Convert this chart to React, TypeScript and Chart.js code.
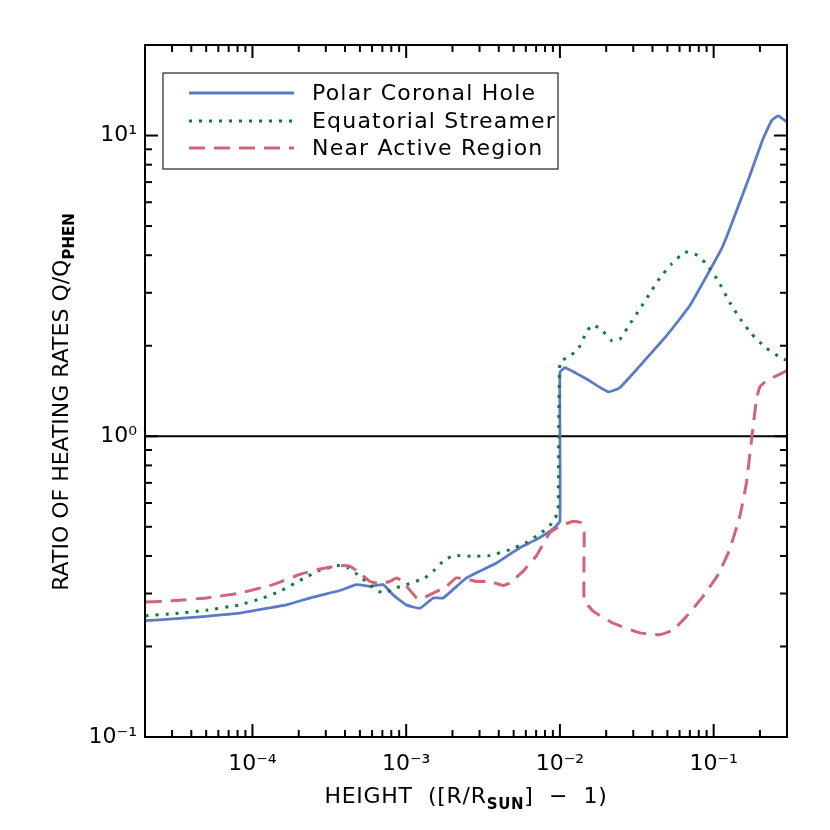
import React, { useEffect, useRef } from 'react';
import { Chart, registerables } from 'chart.js';

Chart.register(...registerables);

// ---------- data ----------
const polarHeight = [2.02e-5, 3.03e-5, 5.02e-5, 8.26e-5, 1.11e-4, 1.66e-4, 2.48e-4, 3.7e-4, 4.75e-4, 5.8e-4, 7.08e-4, 8.22e-4, 1.0e-3, 1.23e-3, 1.5e-3, 1.74e-3, 2.47e-3, 3.87e-3, 5.49e-3, 7.05e-3, 9.03e-3, 0.01, 0.01, 0.01077, 0.0149, 0.0206, 0.0245, 0.0331, 0.0494, 0.07, 0.1125, 0.1273, 0.172, 0.21, 0.238, 0.263, 0.298];
const polarRatio = [0.2436, 0.247, 0.252, 0.258, 0.265, 0.275, 0.292, 0.307, 0.321, 0.317, 0.321, 0.297, 0.275, 0.268, 0.29, 0.29, 0.338, 0.379, 0.426, 0.454, 0.492, 0.522, 1.63, 1.69, 1.55, 1.405, 1.45, 1.715, 2.16, 2.72, 4.2, 4.9, 7.37, 9.77, 11.2, 11.63, 11.11];

const streamerHeight = [2.02e-5, 3.04e-5, 5.02e-5, 8.26e-5, 1.17e-4, 1.51e-4, 2.13e-4, 2.74e-4, 3.61e-4, 4.19e-4, 4.99e-4, 5.8e-4, 6.41e-4, 7.26e-4, 8.22e-4, 1.0e-3, 1.32e-3, 1.5e-3, 1.78e-3, 2.07e-3, 2.72e-3, 3.5e-3, 4.72e-3, 6.07e-3, 7.45e-3, 8.6e-3, 9.27e-3, 9.73e-3, 0.01, 0.01162, 0.01314, 0.0149, 0.01606, 0.0182, 0.0217, 0.0245, 0.0285, 0.0331, 0.0385, 0.0447, 0.0532, 0.065, 0.0755, 0.09, 0.107, 0.127, 0.152, 0.1765, 0.2155, 0.27, 0.298];
const streamerRatio = [0.253, 0.257, 0.264, 0.275, 0.29, 0.305, 0.336, 0.358, 0.3715, 0.365, 0.342, 0.321, 0.307, 0.301, 0.311, 0.321, 0.338, 0.356, 0.389, 0.401, 0.399, 0.401, 0.42, 0.444, 0.475, 0.505, 0.532, 0.564, 1.76, 1.85, 1.95, 2.22, 2.34, 2.29, 2.08, 2.1, 2.36, 2.65, 2.99, 3.36, 3.74, 4.1, 4.04, 3.74, 3.29, 2.79, 2.42, 2.19, 1.98, 1.83, 1.79];

const activeHeight = [2.02e-5, 3.04e-5, 5.02e-5, 8.26e-5, 1.36e-4, 2.03e-4, 2.74e-4, 3.7e-4, 4.29e-4, 4.99e-4, 5.8e-4, 6.73e-4, 7.82e-4, 8.65e-4, 9.55e-4, 1.05e-3, 1.17e-3, 1.26e-3, 1.5e-3, 1.83e-3, 2.12e-3, 2.53e-3, 2.87e-3, 3.5e-3, 4.27e-3, 4.72e-3, 5.76e-3, 7.05e-3, 8.6e-3, 0.01, 0.0122, 0.01383, 0.01438, 0.01438, 0.01645, 0.0222, 0.0331, 0.0447, 0.0545, 0.0667, 0.0855, 0.107, 0.127, 0.148, 0.1635, 0.1765, 0.19, 0.2, 0.221, 0.244, 0.298];
const activeRatio = [0.281, 0.284, 0.29, 0.301, 0.321, 0.347, 0.362, 0.3715, 0.37, 0.351, 0.329, 0.324, 0.329, 0.338, 0.329, 0.309, 0.29, 0.288, 0.301, 0.317, 0.338, 0.334, 0.329, 0.329, 0.319, 0.325, 0.356, 0.401, 0.478, 0.502, 0.522, 0.515, 0.478, 0.286, 0.262, 0.239, 0.222, 0.219, 0.227, 0.252, 0.294, 0.347, 0.42, 0.542, 0.701, 0.977, 1.33, 1.46, 1.53, 1.57, 1.65];

const unityHeight = [2e-5, 0.3];
const unityRatio = [1, 1];

const seriesNames = ['Polar Coronal Hole', 'Equatorial Streamer', 'Near Active Region'];

const xTickValues = [1e-4, 1e-3, 1e-2, 1e-1];
const xTickLabels = ['10⁻⁴', '10⁻³', '10⁻²', '10⁻¹'];
const yTickValues = [0.1, 1, 10];
const yTickLabels = ['10⁻¹', '10⁰', '10¹'];

const xMin = 2e-5;
const xMax = 0.3;
const yMin = 0.1;
const yMax = 20;

const FONT = '"DejaVu Sans", sans-serif';

function pairs(xs: number[], ys: number[]) {
  return xs.map((x, i) => ({ x, y: ys[i] }));
}

function labelFor(values: number[], labels: string[], v: number) {
  for (let i = 0; i < values.length; i++) {
    if (Math.abs(Math.log10(v) - Math.log10(values[i])) < 1e-6) return labels[i];
  }
  return '';
}

const framePlugin = {
  id: 'frameAndLegend',
  afterDraw(chart: any) {
    const { ctx, chartArea: a, scales } = chart;
    const xs = scales.x;
    const ys = scales.y;
    ctx.save();
    ctx.strokeStyle = '#000';
    ctx.lineWidth = 2;
    ctx.lineCap = 'butt';
    const seg = (x1: number, y1: number, x2: number, y2: number) => {
      ctx.beginPath();
      ctx.moveTo(x1, y1);
      ctx.lineTo(x2, y2);
      ctx.stroke();
    };
    for (let e = -6; e <= 2; e++) {
      for (let m = 1; m <= 9; m++) {
        const v = m * Math.pow(10, e);
        const len = m === 1 ? 13 : 7;
        if (v > xMin * 1.0001 && v < xMax * 0.9999) {
          const p = xs.getPixelForValue(v);
          seg(p, a.bottom, p, a.bottom - len);
          seg(p, a.top, p, a.top + len);
        }
        if (v > yMin * 1.0001 && v < yMax * 0.9999) {
          const p = ys.getPixelForValue(v);
          seg(a.left, p, a.left + len, p);
          seg(a.right, p, a.right - len, p);
        }
      }
    }
    ctx.strokeRect(a.left, a.top, a.right - a.left, a.bottom - a.top);

    // legend
    const bx = a.left + 18;
    const by = a.top + 28;
    const bw = 395;
    const bh = 96;
    ctx.fillStyle = '#fff';
    ctx.fillRect(bx, by, bw, bh);
    ctx.lineWidth = 1.2;
    ctx.strokeStyle = '#222';
    ctx.strokeRect(bx, by, bw, bh);
    const rows = [by + 20, by + 48, by + 75];
    ctx.font = `22px ${FONT}`;
    (ctx as any).letterSpacing = '1.2px';
    ctx.textBaseline = 'middle';
    ctx.textAlign = 'left';
    for (let i = 0; i < 3; i++) {
      const ds = chart.data.datasets[i];
      ctx.save();
      ctx.strokeStyle = ds.borderColor;
      ctx.lineWidth = ds.borderWidth;
      ctx.setLineDash(ds.borderDash || []);
      ctx.beginPath();
      ctx.moveTo(bx + 26, rows[i]);
      ctx.lineTo(bx + 131, rows[i]);
      ctx.stroke();
      ctx.restore();
      ctx.fillStyle = '#000';
      ctx.fillText(ds.label, bx + 149, rows[i] + 1);
    }

    ctx.fillStyle = '#000';
    ctx.textBaseline = 'alphabetic';
    const drawRich = (parts: { t: string; sub?: boolean }[], cx: number, baseY: number) => {
      let total = 0;
      const widths: number[] = [];
      for (const p of parts) {
        ctx.font = p.sub ? `bold 15px ${FONT}` : `22px ${FONT}`;
        const w = ctx.measureText(p.t).width;
        widths.push(w);
        total += w;
      }
      let x = cx - total / 2;
      parts.forEach((p, i) => {
        ctx.font = p.sub ? `bold 15px ${FONT}` : `22px ${FONT}`;
        ctx.fillText(p.t, x, baseY + (p.sub ? 6 : 0));
        x += widths[i];
      });
    };
    (ctx as any).letterSpacing = '0.7px';
    drawRich([{ t: 'HEIGHT  ([R/R' }, { t: 'SUN', sub: true }, { t: ']  −  1)' }], 466, 803);

    (ctx as any).letterSpacing = '0px';
    ctx.save();
    ctx.translate(68, 402);
    ctx.rotate(-Math.PI / 2);
    drawRich([{ t: 'RATIO OF HEATING RATES Q/Q' }, { t: 'PHEN', sub: true }], 0, 0);
    ctx.restore();

    ctx.restore();
  },
};

export default function App() {
  const canvasRef = useRef<HTMLCanvasElement | null>(null);

  useEffect(() => {
    const canvas = canvasRef.current;
    if (!canvas) return;
    const chart = new Chart(canvas, {
      type: 'line',
      data: {
        datasets: [
          {
            label: seriesNames[0],
            data: pairs(polarHeight, polarRatio),
            borderColor: '#5B7BC6',
            borderWidth: 2.8,
            pointRadius: 0,
            tension: 0.12,
            fill: false,
            order: 3,
          },
          {
            label: seriesNames[1],
            data: pairs(streamerHeight, streamerRatio),
            borderColor: '#127A3C',
            borderWidth: 3,
            borderDash: [3, 7],
            pointRadius: 0,
            tension: 0.12,
            fill: false,
            order: 2,
          },
          {
            label: seriesNames[2],
            data: pairs(activeHeight, activeRatio),
            borderColor: '#D0657A',
            borderWidth: 3,
            borderDash: [16, 9],
            pointRadius: 0,
            tension: 0.12,
            fill: false,
            order: 1,
          },
          {
            label: 'unity',
            data: pairs(unityHeight, unityRatio),
            borderColor: '#000',
            borderWidth: 2,
            pointRadius: 0,
            tension: 0,
            fill: false,
            order: 4,
          },
        ],
      },
      options: {
        responsive: false,
        animation: false,
        devicePixelRatio: 1,
        layout: { padding: { top: 45, right: 43, left: 0, bottom: 0 } },
        plugins: {
          legend: { display: false },
          tooltip: { enabled: false },
        },
        scales: {
          x: {
            type: 'logarithmic',
            min: xMin,
            max: xMax,
            position: 'bottom',
            afterFit: (s: any) => {
              s.height = 93;
            },
            grid: { display: false, drawTicks: false },
            border: { display: false },
            ticks: {
              autoSkip: false,
              maxRotation: 0,
              padding: 14,
              color: '#000',
              font: { family: FONT, size: 22 },
              callback: (v: any) => labelFor(xTickValues, xTickLabels, Number(v)),
            },
          },
          y: {
            type: 'logarithmic',
            min: yMin,
            max: yMax,
            position: 'left',
            afterFit: (s: any) => {
              s.width = 145;
            },
            grid: { display: false, drawTicks: false },
            border: { display: false },
            ticks: {
              autoSkip: false,
              padding: 8,
              color: '#000',
              font: { family: FONT, size: 22 },
              callback: (v: any) => labelFor(yTickValues, yTickLabels, Number(v)),
            },
          },
        },
      },
      plugins: [framePlugin],
    });
    return () => chart.destroy();
  }, []);

  return (
    <div style={{ position: 'fixed', left: 0, top: 0, width: 830, height: 830, background: '#fff' }}>
      <canvas ref={canvasRef} width={830} height={830} style={{ display: 'block' }} />
    </div>
  );
}
